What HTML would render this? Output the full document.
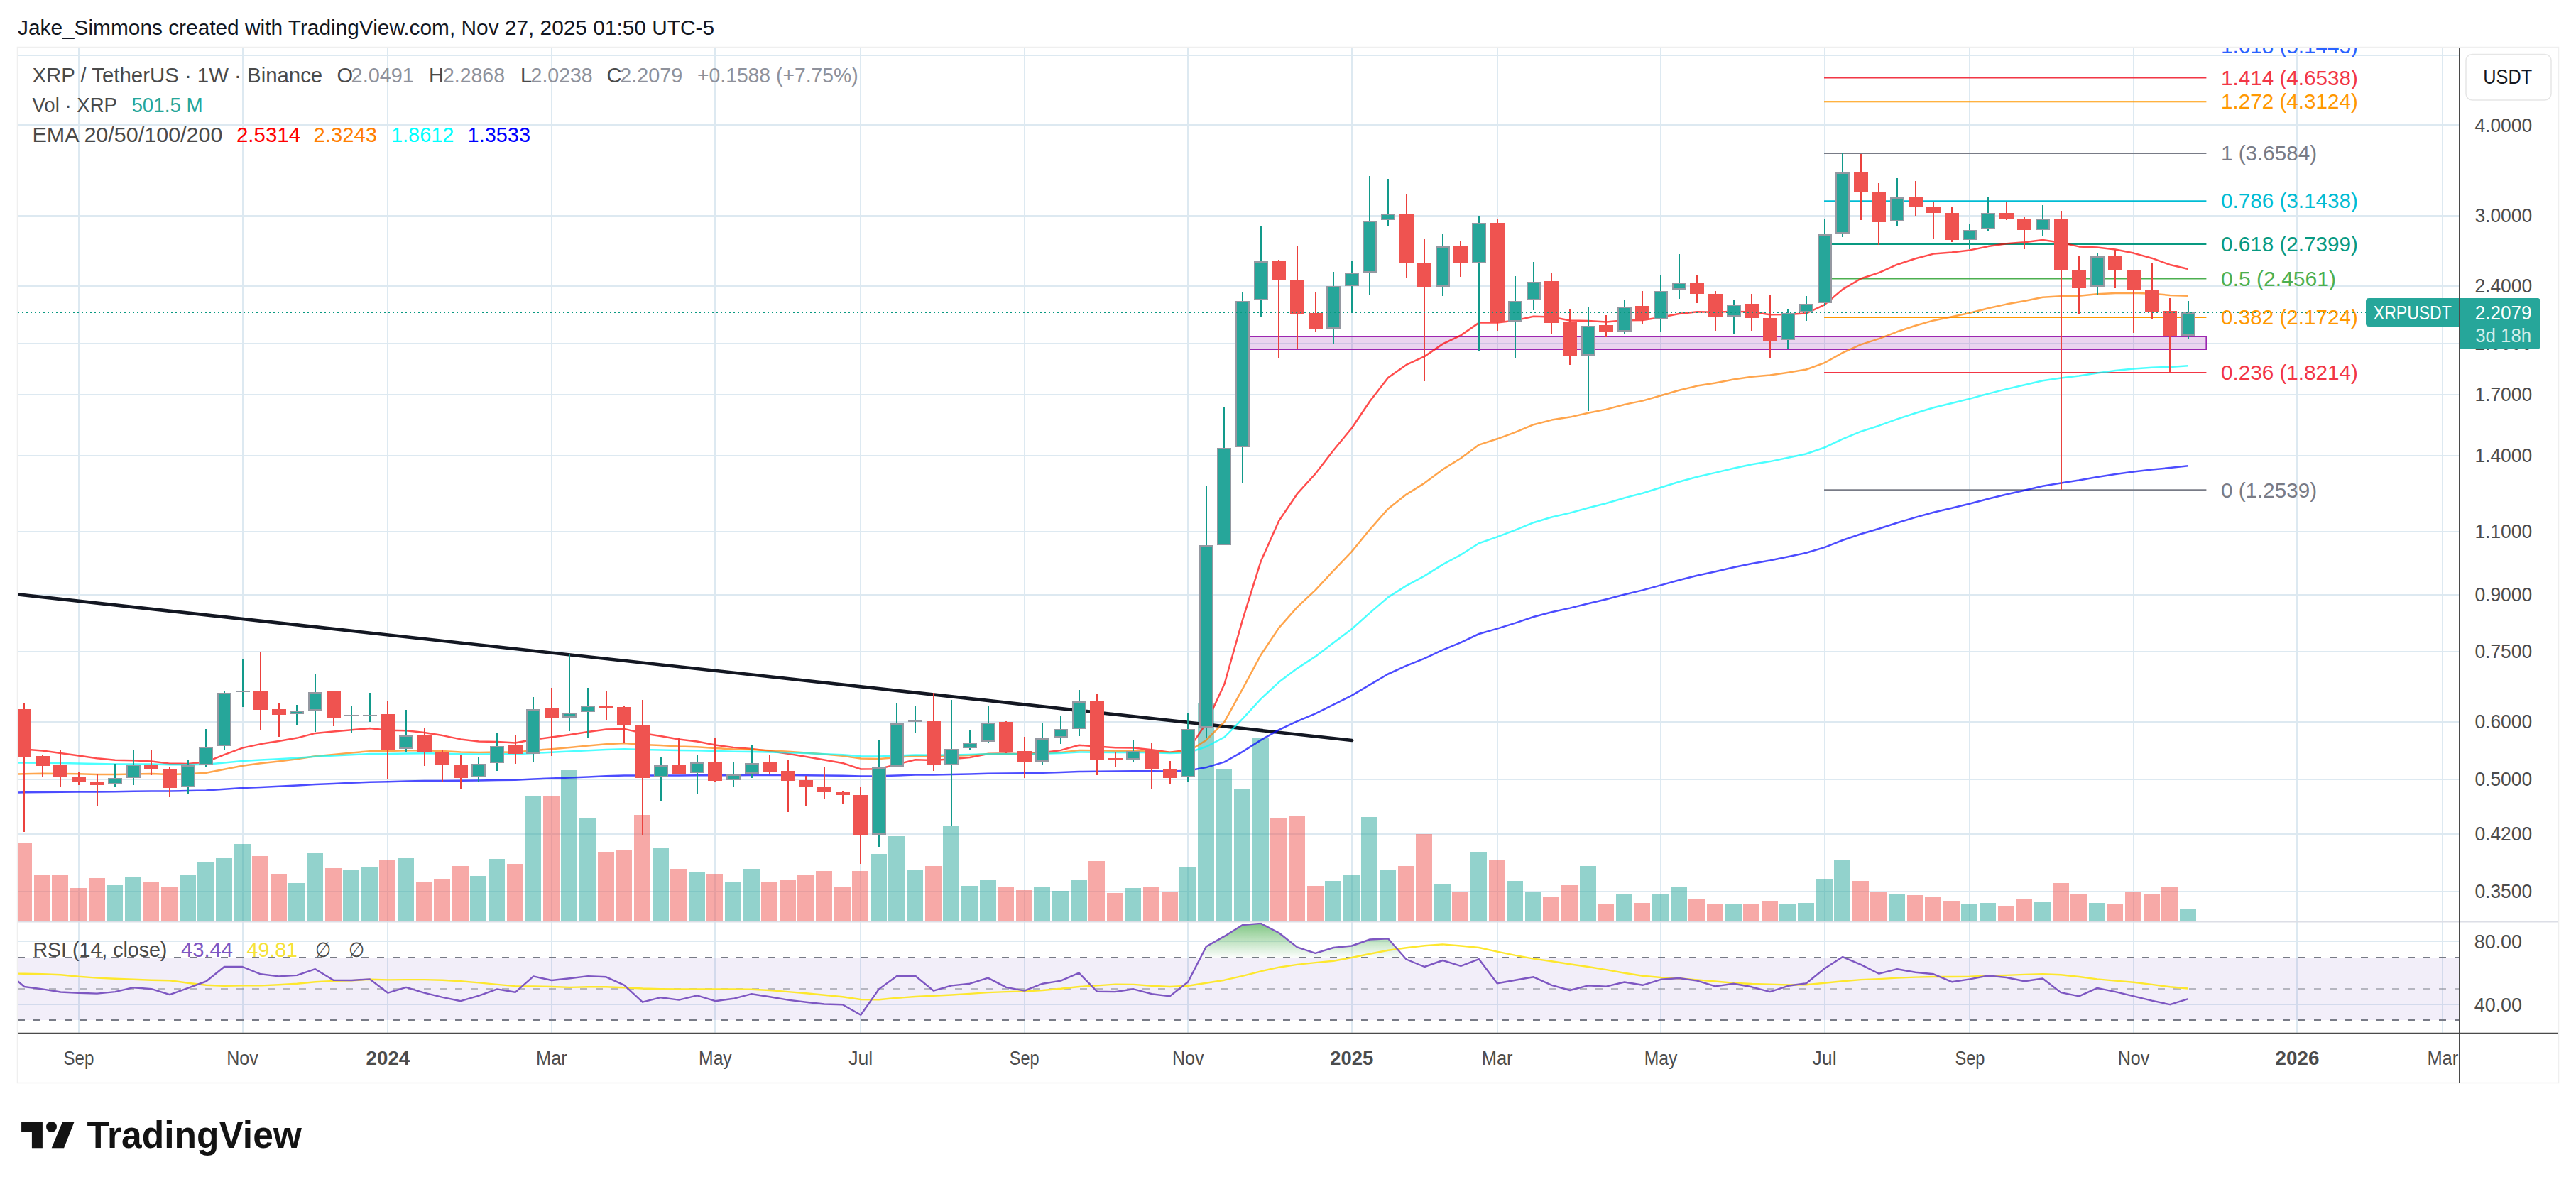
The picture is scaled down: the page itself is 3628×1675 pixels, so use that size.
<!DOCTYPE html>
<html><head><meta charset="utf-8"><style>
html,body{margin:0;padding:0;background:#fff;width:3628px;height:1675px;overflow:hidden;}
svg{display:block;}
text{font-family:"Liberation Sans", sans-serif;}
</style></head><body>
<svg width="3628" height="1675" viewBox="0 0 3628 1675" font-family='"Liberation Sans", sans-serif'>
<defs>
<clipPath id="main"><rect x="25" y="67" width="3438" height="1230.5"/></clipPath>
<clipPath id="rsi"><rect x="25" y="1299.5" width="3438" height="155.29999999999995"/></clipPath>
<linearGradient id="ob" x1="0" y1="1300" x2="0" y2="1349" gradientUnits="userSpaceOnUse"><stop offset="0" stop-color="#4caf50" stop-opacity="0.72"/><stop offset="1" stop-color="#4caf50" stop-opacity="0.02"/></linearGradient>
</defs>
<rect x="0" y="0" width="3628" height="1675" fill="#ffffff"/>
<text x="25.0" y="49.0" font-size="30" fill="#131722" text-anchor="start" font-weight="normal" textLength="981.0" lengthAdjust="spacingAndGlyphs">Jake_Simmons created with TradingView.com, Nov 27, 2025 01:50 UTC-5</text>
<rect x="24.5" y="66.5" width="3579" height="1459" fill="none" stroke="#efefef" stroke-width="1.5"/>
<line x1="111" y1="67" x2="111" y2="1454.8" stroke="#dde9f1" stroke-width="2"/>
<line x1="342" y1="67" x2="342" y2="1454.8" stroke="#dde9f1" stroke-width="2"/>
<line x1="546" y1="67" x2="546" y2="1454.8" stroke="#dde9f1" stroke-width="2"/>
<line x1="777" y1="67" x2="777" y2="1454.8" stroke="#dde9f1" stroke-width="2"/>
<line x1="1007" y1="67" x2="1007" y2="1454.8" stroke="#dde9f1" stroke-width="2"/>
<line x1="1212" y1="67" x2="1212" y2="1454.8" stroke="#dde9f1" stroke-width="2"/>
<line x1="1443" y1="67" x2="1443" y2="1454.8" stroke="#dde9f1" stroke-width="2"/>
<line x1="1673" y1="67" x2="1673" y2="1454.8" stroke="#dde9f1" stroke-width="2"/>
<line x1="1904" y1="67" x2="1904" y2="1454.8" stroke="#dde9f1" stroke-width="2"/>
<line x1="2109" y1="67" x2="2109" y2="1454.8" stroke="#dde9f1" stroke-width="2"/>
<line x1="2339" y1="67" x2="2339" y2="1454.8" stroke="#dde9f1" stroke-width="2"/>
<line x1="2570" y1="67" x2="2570" y2="1454.8" stroke="#dde9f1" stroke-width="2"/>
<line x1="2774" y1="67" x2="2774" y2="1454.8" stroke="#dde9f1" stroke-width="2"/>
<line x1="3005" y1="67" x2="3005" y2="1454.8" stroke="#dde9f1" stroke-width="2"/>
<line x1="3235" y1="67" x2="3235" y2="1454.8" stroke="#dde9f1" stroke-width="2"/>
<line x1="3440" y1="67" x2="3440" y2="1454.8" stroke="#dde9f1" stroke-width="2"/>
<line x1="25" y1="78" x2="3464" y2="78" stroke="#dde9f1" stroke-width="2"/>
<line x1="25" y1="176" x2="3464" y2="176" stroke="#dde9f1" stroke-width="2"/>
<line x1="25" y1="304" x2="3464" y2="304" stroke="#dde9f1" stroke-width="2"/>
<line x1="25" y1="403" x2="3464" y2="403" stroke="#dde9f1" stroke-width="2"/>
<line x1="25" y1="484" x2="3464" y2="484" stroke="#dde9f1" stroke-width="2"/>
<line x1="25" y1="556" x2="3464" y2="556" stroke="#dde9f1" stroke-width="2"/>
<line x1="25" y1="642" x2="3464" y2="642" stroke="#dde9f1" stroke-width="2"/>
<line x1="25" y1="749" x2="3464" y2="749" stroke="#dde9f1" stroke-width="2"/>
<line x1="25" y1="838" x2="3464" y2="838" stroke="#dde9f1" stroke-width="2"/>
<line x1="25" y1="918" x2="3464" y2="918" stroke="#dde9f1" stroke-width="2"/>
<line x1="25" y1="1017" x2="3464" y2="1017" stroke="#dde9f1" stroke-width="2"/>
<line x1="25" y1="1098" x2="3464" y2="1098" stroke="#dde9f1" stroke-width="2"/>
<line x1="25" y1="1175" x2="3464" y2="1175" stroke="#dde9f1" stroke-width="2"/>
<line x1="25" y1="1256" x2="3464" y2="1256" stroke="#dde9f1" stroke-width="2"/>
<line x1="25" y1="1326" x2="3464" y2="1326" stroke="#dde9f1" stroke-width="2"/>
<line x1="25" y1="1415" x2="3464" y2="1415" stroke="#dde9f1" stroke-width="2"/>
<g clip-path="url(#main)">
<rect x="22" y="1187" width="23" height="110" fill="#ef5350" fill-opacity="0.5"/>
<rect x="48" y="1233" width="23" height="64" fill="#ef5350" fill-opacity="0.5"/>
<rect x="73" y="1232" width="23" height="65" fill="#ef5350" fill-opacity="0.5"/>
<rect x="99" y="1251" width="23" height="46" fill="#ef5350" fill-opacity="0.5"/>
<rect x="125" y="1237" width="23" height="60" fill="#ef5350" fill-opacity="0.5"/>
<rect x="150" y="1247" width="23" height="50" fill="#26a69a" fill-opacity="0.5"/>
<rect x="176" y="1235" width="23" height="62" fill="#26a69a" fill-opacity="0.5"/>
<rect x="201" y="1243" width="23" height="54" fill="#ef5350" fill-opacity="0.5"/>
<rect x="227" y="1250" width="23" height="47" fill="#ef5350" fill-opacity="0.5"/>
<rect x="253" y="1232" width="23" height="65" fill="#26a69a" fill-opacity="0.5"/>
<rect x="278" y="1214" width="23" height="83" fill="#26a69a" fill-opacity="0.5"/>
<rect x="304" y="1209" width="23" height="88" fill="#26a69a" fill-opacity="0.5"/>
<rect x="330" y="1189" width="23" height="108" fill="#26a69a" fill-opacity="0.5"/>
<rect x="355" y="1206" width="23" height="91" fill="#ef5350" fill-opacity="0.5"/>
<rect x="381" y="1231" width="23" height="66" fill="#ef5350" fill-opacity="0.5"/>
<rect x="406" y="1244" width="23" height="53" fill="#26a69a" fill-opacity="0.5"/>
<rect x="432" y="1202" width="23" height="95" fill="#26a69a" fill-opacity="0.5"/>
<rect x="458" y="1223" width="23" height="74" fill="#ef5350" fill-opacity="0.5"/>
<rect x="483" y="1225" width="23" height="72" fill="#26a69a" fill-opacity="0.5"/>
<rect x="509" y="1221" width="23" height="76" fill="#26a69a" fill-opacity="0.5"/>
<rect x="534" y="1211" width="23" height="86" fill="#ef5350" fill-opacity="0.5"/>
<rect x="560" y="1209" width="23" height="88" fill="#26a69a" fill-opacity="0.5"/>
<rect x="586" y="1242" width="23" height="55" fill="#ef5350" fill-opacity="0.5"/>
<rect x="611" y="1238" width="23" height="59" fill="#ef5350" fill-opacity="0.5"/>
<rect x="637" y="1220" width="23" height="77" fill="#ef5350" fill-opacity="0.5"/>
<rect x="662" y="1234" width="23" height="63" fill="#26a69a" fill-opacity="0.5"/>
<rect x="688" y="1210" width="23" height="87" fill="#26a69a" fill-opacity="0.5"/>
<rect x="714" y="1217" width="23" height="80" fill="#ef5350" fill-opacity="0.5"/>
<rect x="739" y="1121" width="23" height="176" fill="#26a69a" fill-opacity="0.5"/>
<rect x="765" y="1122" width="23" height="175" fill="#ef5350" fill-opacity="0.5"/>
<rect x="790" y="1085" width="23" height="212" fill="#26a69a" fill-opacity="0.5"/>
<rect x="816" y="1153" width="23" height="144" fill="#26a69a" fill-opacity="0.5"/>
<rect x="842" y="1200" width="23" height="97" fill="#ef5350" fill-opacity="0.5"/>
<rect x="867" y="1198" width="23" height="99" fill="#ef5350" fill-opacity="0.5"/>
<rect x="893" y="1148" width="23" height="149" fill="#ef5350" fill-opacity="0.5"/>
<rect x="919" y="1195" width="23" height="102" fill="#26a69a" fill-opacity="0.5"/>
<rect x="944" y="1224" width="23" height="73" fill="#ef5350" fill-opacity="0.5"/>
<rect x="970" y="1228" width="23" height="69" fill="#26a69a" fill-opacity="0.5"/>
<rect x="995" y="1231" width="23" height="66" fill="#ef5350" fill-opacity="0.5"/>
<rect x="1021" y="1242" width="23" height="55" fill="#26a69a" fill-opacity="0.5"/>
<rect x="1047" y="1224" width="23" height="73" fill="#26a69a" fill-opacity="0.5"/>
<rect x="1072" y="1243" width="23" height="54" fill="#ef5350" fill-opacity="0.5"/>
<rect x="1098" y="1240" width="23" height="57" fill="#ef5350" fill-opacity="0.5"/>
<rect x="1123" y="1233" width="23" height="64" fill="#ef5350" fill-opacity="0.5"/>
<rect x="1149" y="1227" width="23" height="70" fill="#ef5350" fill-opacity="0.5"/>
<rect x="1175" y="1250" width="23" height="47" fill="#ef5350" fill-opacity="0.5"/>
<rect x="1200" y="1227" width="23" height="70" fill="#ef5350" fill-opacity="0.5"/>
<rect x="1226" y="1203" width="23" height="94" fill="#26a69a" fill-opacity="0.5"/>
<rect x="1251" y="1178" width="23" height="119" fill="#26a69a" fill-opacity="0.5"/>
<rect x="1277" y="1226" width="23" height="71" fill="#26a69a" fill-opacity="0.5"/>
<rect x="1303" y="1220" width="23" height="77" fill="#ef5350" fill-opacity="0.5"/>
<rect x="1328" y="1164" width="23" height="133" fill="#26a69a" fill-opacity="0.5"/>
<rect x="1354" y="1248" width="23" height="49" fill="#26a69a" fill-opacity="0.5"/>
<rect x="1380" y="1239" width="23" height="58" fill="#26a69a" fill-opacity="0.5"/>
<rect x="1405" y="1249" width="23" height="48" fill="#ef5350" fill-opacity="0.5"/>
<rect x="1431" y="1254" width="23" height="43" fill="#ef5350" fill-opacity="0.5"/>
<rect x="1456" y="1250" width="23" height="47" fill="#26a69a" fill-opacity="0.5"/>
<rect x="1482" y="1255" width="23" height="42" fill="#26a69a" fill-opacity="0.5"/>
<rect x="1508" y="1239" width="23" height="58" fill="#26a69a" fill-opacity="0.5"/>
<rect x="1533" y="1213" width="23" height="84" fill="#ef5350" fill-opacity="0.5"/>
<rect x="1559" y="1258" width="23" height="39" fill="#ef5350" fill-opacity="0.5"/>
<rect x="1584" y="1251" width="23" height="46" fill="#26a69a" fill-opacity="0.5"/>
<rect x="1610" y="1250" width="23" height="47" fill="#ef5350" fill-opacity="0.5"/>
<rect x="1636" y="1257" width="23" height="40" fill="#ef5350" fill-opacity="0.5"/>
<rect x="1661" y="1222" width="23" height="75" fill="#26a69a" fill-opacity="0.5"/>
<rect x="1687" y="990" width="23" height="307" fill="#26a69a" fill-opacity="0.5"/>
<rect x="1712" y="1083" width="23" height="214" fill="#26a69a" fill-opacity="0.5"/>
<rect x="1738" y="1111" width="23" height="186" fill="#26a69a" fill-opacity="0.5"/>
<rect x="1764" y="1040" width="23" height="257" fill="#26a69a" fill-opacity="0.5"/>
<rect x="1789" y="1153" width="23" height="144" fill="#ef5350" fill-opacity="0.5"/>
<rect x="1815" y="1150" width="23" height="147" fill="#ef5350" fill-opacity="0.5"/>
<rect x="1841" y="1248" width="23" height="49" fill="#ef5350" fill-opacity="0.5"/>
<rect x="1866" y="1241" width="23" height="56" fill="#26a69a" fill-opacity="0.5"/>
<rect x="1892" y="1233" width="23" height="64" fill="#26a69a" fill-opacity="0.5"/>
<rect x="1917" y="1151" width="23" height="146" fill="#26a69a" fill-opacity="0.5"/>
<rect x="1943" y="1226" width="23" height="71" fill="#26a69a" fill-opacity="0.5"/>
<rect x="1969" y="1220" width="23" height="77" fill="#ef5350" fill-opacity="0.5"/>
<rect x="1994" y="1175" width="23" height="122" fill="#ef5350" fill-opacity="0.5"/>
<rect x="2020" y="1246" width="23" height="51" fill="#26a69a" fill-opacity="0.5"/>
<rect x="2045" y="1257" width="23" height="40" fill="#ef5350" fill-opacity="0.5"/>
<rect x="2071" y="1200" width="23" height="97" fill="#26a69a" fill-opacity="0.5"/>
<rect x="2097" y="1212" width="23" height="85" fill="#ef5350" fill-opacity="0.5"/>
<rect x="2122" y="1241" width="23" height="56" fill="#26a69a" fill-opacity="0.5"/>
<rect x="2148" y="1257" width="23" height="40" fill="#26a69a" fill-opacity="0.5"/>
<rect x="2173" y="1263" width="23" height="34" fill="#ef5350" fill-opacity="0.5"/>
<rect x="2199" y="1247" width="23" height="50" fill="#ef5350" fill-opacity="0.5"/>
<rect x="2225" y="1220" width="23" height="77" fill="#26a69a" fill-opacity="0.5"/>
<rect x="2250" y="1273" width="23" height="24" fill="#ef5350" fill-opacity="0.5"/>
<rect x="2276" y="1260" width="23" height="37" fill="#26a69a" fill-opacity="0.5"/>
<rect x="2301" y="1272" width="23" height="25" fill="#ef5350" fill-opacity="0.5"/>
<rect x="2327" y="1260" width="23" height="37" fill="#26a69a" fill-opacity="0.5"/>
<rect x="2353" y="1249" width="23" height="48" fill="#26a69a" fill-opacity="0.5"/>
<rect x="2378" y="1267" width="23" height="30" fill="#ef5350" fill-opacity="0.5"/>
<rect x="2404" y="1273" width="23" height="24" fill="#ef5350" fill-opacity="0.5"/>
<rect x="2430" y="1274" width="23" height="23" fill="#26a69a" fill-opacity="0.5"/>
<rect x="2455" y="1273" width="23" height="24" fill="#ef5350" fill-opacity="0.5"/>
<rect x="2481" y="1269" width="23" height="28" fill="#ef5350" fill-opacity="0.5"/>
<rect x="2506" y="1273" width="23" height="24" fill="#26a69a" fill-opacity="0.5"/>
<rect x="2532" y="1272" width="23" height="25" fill="#26a69a" fill-opacity="0.5"/>
<rect x="2558" y="1238" width="23" height="59" fill="#26a69a" fill-opacity="0.5"/>
<rect x="2583" y="1211" width="23" height="86" fill="#26a69a" fill-opacity="0.5"/>
<rect x="2609" y="1241" width="23" height="56" fill="#ef5350" fill-opacity="0.5"/>
<rect x="2634" y="1257" width="23" height="40" fill="#ef5350" fill-opacity="0.5"/>
<rect x="2660" y="1260" width="23" height="37" fill="#26a69a" fill-opacity="0.5"/>
<rect x="2686" y="1261" width="23" height="36" fill="#ef5350" fill-opacity="0.5"/>
<rect x="2711" y="1263" width="23" height="34" fill="#ef5350" fill-opacity="0.5"/>
<rect x="2737" y="1269" width="23" height="28" fill="#ef5350" fill-opacity="0.5"/>
<rect x="2762" y="1273" width="23" height="24" fill="#26a69a" fill-opacity="0.5"/>
<rect x="2788" y="1272" width="23" height="25" fill="#26a69a" fill-opacity="0.5"/>
<rect x="2814" y="1276" width="23" height="21" fill="#ef5350" fill-opacity="0.5"/>
<rect x="2839" y="1267" width="23" height="30" fill="#ef5350" fill-opacity="0.5"/>
<rect x="2865" y="1271" width="23" height="26" fill="#26a69a" fill-opacity="0.5"/>
<rect x="2891" y="1244" width="23" height="53" fill="#ef5350" fill-opacity="0.5"/>
<rect x="2916" y="1259" width="23" height="38" fill="#ef5350" fill-opacity="0.5"/>
<rect x="2942" y="1272" width="23" height="25" fill="#26a69a" fill-opacity="0.5"/>
<rect x="2967" y="1273" width="23" height="24" fill="#ef5350" fill-opacity="0.5"/>
<rect x="2993" y="1257" width="23" height="40" fill="#ef5350" fill-opacity="0.5"/>
<rect x="3019" y="1260" width="23" height="37" fill="#ef5350" fill-opacity="0.5"/>
<rect x="3044" y="1249" width="23" height="48" fill="#ef5350" fill-opacity="0.5"/>
<rect x="3070" y="1280" width="23" height="17" fill="#26a69a" fill-opacity="0.5"/>
<rect x="1759" y="474" width="1348.4" height="18" fill="#9c27b0" fill-opacity="0.2" stroke="#9c27b0" stroke-width="2"/>
<line x1="2569" y1="65.1" x2="3107.4" y2="65.1" stroke="#2962ff" stroke-width="2"/>
<line x1="2569" y1="109.4" x2="3107.4" y2="109.4" stroke="#f23645" stroke-width="2"/>
<line x1="2569" y1="143.2" x2="3107.4" y2="143.2" stroke="#ff9800" stroke-width="2"/>
<line x1="2569" y1="216.0" x2="3107.4" y2="216.0" stroke="#787b86" stroke-width="2"/>
<line x1="2569" y1="283.2" x2="3107.4" y2="283.2" stroke="#00bcd4" stroke-width="2"/>
<line x1="2569" y1="344.1" x2="3107.4" y2="344.1" stroke="#089981" stroke-width="2"/>
<line x1="2569" y1="392.5" x2="3107.4" y2="392.5" stroke="#4caf50" stroke-width="2"/>
<line x1="2569" y1="446.9" x2="3107.4" y2="446.9" stroke="#ff9800" stroke-width="2"/>
<line x1="2569" y1="524.9" x2="3107.4" y2="524.9" stroke="#f23645" stroke-width="2"/>
<line x1="2569" y1="690.3" x2="3107.4" y2="690.3" stroke="#787b86" stroke-width="2"/>
<line x1="20" y1="836.8" x2="1904.2" y2="1043" stroke="#131722" stroke-width="4.6" stroke-linecap="round"/>
<polyline points="8.6,1053.4 34.2,1055.5 59.8,1057.6 85.4,1060.9 111.0,1064.5 136.6,1068.2 162.2,1070.8 187.9,1071.3 213.5,1072.4 239.1,1075.7 264.7,1075.9 290.3,1073.4 315.9,1063.1 341.5,1053.6 367.1,1048.1 392.7,1043.9 418.3,1039.6 444.0,1032.9 469.6,1030.6 495.2,1028.3 520.8,1026.1 546.4,1028.7 572.0,1029.3 597.6,1032.1 623.2,1036.1 648.8,1041.4 674.5,1044.5 700.1,1045.0 725.7,1046.6 751.3,1041.7 776.9,1038.6 802.5,1035.1 828.1,1031.0 853.7,1027.5 879.3,1026.9 904.9,1032.9 930.6,1036.9 956.2,1041.6 981.8,1044.5 1007.4,1049.4 1033.0,1053.1 1058.6,1055.1 1084.2,1057.9 1109.8,1061.7 1135.4,1065.9 1161.0,1070.4 1186.7,1074.9 1212.3,1083.5 1237.9,1083.2 1263.5,1076.6 1289.1,1070.2 1314.7,1070.9 1340.3,1069.3 1365.9,1066.9 1391.5,1061.9 1417.1,1061.5 1442.8,1062.5 1468.4,1060.2 1494.0,1056.9 1519.6,1049.8 1545.2,1051.6 1570.8,1053.2 1596.4,1053.5 1622.0,1056.2 1647.6,1059.7 1673.2,1056.4 1698.8,1019.1 1724.5,963.5 1750.1,872.8 1775.7,790.9 1801.3,733.6 1826.9,695.7 1852.5,667.5 1878.1,634.2 1903.7,603.2 1929.3,565.3 1955.0,532.1 1980.6,513.9 2006.2,502.1 2031.8,484.6 2057.4,472.4 2083.0,454.6 2108.6,454.5 2134.2,451.4 2159.8,445.8 2185.4,446.6 2211.0,451.4 2236.7,452.1 2262.3,453.4 2287.9,451.3 2313.5,451.1 2339.1,446.9 2364.7,442.0 2390.3,439.2 2415.9,439.8 2441.5,438.7 2467.1,439.5 2492.8,443.2 2518.4,442.9 2544.0,441.3 2569.6,429.3 2595.2,407.6 2620.8,392.5 2646.4,384.1 2672.0,372.7 2697.6,364.2 2723.2,357.6 2748.9,355.6 2774.5,352.4 2800.1,347.1 2825.7,343.2 2851.3,341.3 2876.9,337.9 2902.5,341.8 2928.1,347.4 2953.7,348.6 2979.3,351.5 3005.0,356.6 3030.6,363.7 3056.2,373.0 3081.8,379.0" fill="none" stroke="#ff0000" stroke-opacity="0.7" stroke-width="2.5" stroke-linejoin="round"/>
<polyline points="8.6,1090.7 34.2,1090.2 59.8,1089.7 85.4,1089.9 111.0,1090.3 136.6,1090.9 162.2,1091.0 187.9,1090.5 213.5,1090.1 239.1,1090.9 264.7,1090.3 290.3,1088.7 315.9,1083.7 341.5,1078.7 367.1,1075.3 392.7,1072.4 418.3,1069.3 444.0,1065.2 469.6,1062.9 495.2,1060.5 520.8,1058.2 546.4,1058.1 572.0,1057.2 597.6,1057.2 623.2,1058.0 648.8,1059.4 674.5,1060.0 700.1,1059.6 725.7,1059.7 751.3,1057.1 776.9,1055.2 802.5,1053.0 828.1,1050.5 853.7,1048.2 879.3,1047.1 904.9,1048.9 930.6,1050.0 956.2,1051.4 981.8,1052.2 1007.4,1054.0 1033.0,1055.4 1058.6,1056.1 1084.2,1057.2 1109.8,1058.8 1135.4,1060.6 1161.0,1062.6 1186.7,1064.7 1212.3,1068.6 1237.9,1069.1 1263.5,1066.9 1289.1,1064.7 1314.7,1065.2 1340.3,1064.8 1365.9,1064.0 1391.5,1062.0 1417.1,1061.9 1442.8,1062.3 1468.4,1061.3 1494.0,1059.9 1519.6,1056.9 1545.2,1057.3 1570.8,1057.8 1596.4,1057.7 1622.0,1058.7 1647.6,1060.0 1673.2,1058.6 1698.8,1042.7 1724.5,1016.8 1750.1,970.4 1775.7,922.6 1801.3,884.4 1826.9,855.4 1852.5,831.3 1878.1,803.8 1903.7,777.1 1929.3,745.8 1955.0,716.7 1980.6,696.6 2006.2,680.6 2031.8,661.4 2057.4,645.5 2083.0,626.6 2108.6,618.3 2134.2,608.8 2159.8,598.2 2185.4,591.6 2211.0,587.6 2236.7,581.8 2262.3,576.6 2287.9,569.9 2313.5,564.6 2339.1,557.3 2364.7,549.8 2390.3,543.6 2415.9,539.4 2441.5,534.4 2467.1,530.7 2492.8,528.5 2518.4,524.7 2544.0,520.5 2569.6,511.2 2595.2,496.9 2620.8,485.4 2646.4,477.1 2672.0,467.3 2697.6,458.8 2723.2,451.4 2748.9,446.3 2774.5,440.8 2800.1,434.3 2825.7,428.6 2851.3,424.0 2876.9,418.8 2902.5,417.2 2928.1,416.7 2953.7,414.3 2979.3,412.9 3005.0,412.7 3030.6,413.7 3056.2,415.9 3081.8,416.8" fill="none" stroke="#ff7f00" stroke-opacity="0.7" stroke-width="2.5" stroke-linejoin="round"/>
<polyline points="8.6,1074.5 34.2,1074.6 59.8,1074.7 85.4,1075.0 111.0,1075.5 136.6,1076.1 162.2,1076.5 187.9,1076.5 213.5,1076.6 239.1,1077.2 264.7,1077.2 290.3,1076.7 315.9,1074.4 341.5,1072.1 367.1,1070.6 392.7,1069.2 418.3,1067.7 444.0,1065.7 469.6,1064.5 495.2,1063.3 520.8,1062.1 546.4,1061.9 572.0,1061.4 597.6,1061.3 623.2,1061.6 648.8,1062.2 674.5,1062.5 700.1,1062.2 725.7,1062.2 751.3,1060.9 776.9,1059.8 802.5,1058.6 828.1,1057.2 853.7,1055.9 879.3,1055.2 904.9,1055.9 930.6,1056.4 956.2,1057.0 981.8,1057.3 1007.4,1058.1 1033.0,1058.7 1058.6,1059.0 1084.2,1059.5 1109.8,1060.3 1135.4,1061.1 1161.0,1062.2 1186.7,1063.2 1212.3,1065.2 1237.9,1065.5 1263.5,1064.5 1289.1,1063.5 1314.7,1063.7 1340.3,1063.5 1365.9,1063.1 1391.5,1062.2 1417.1,1062.1 1442.8,1062.3 1468.4,1061.8 1494.0,1061.1 1519.6,1059.5 1545.2,1059.7 1570.8,1059.9 1596.4,1059.8 1622.0,1060.3 1647.6,1060.9 1673.2,1060.2 1698.8,1052.0 1724.5,1038.3 1750.1,1012.7 1775.7,984.7 1801.3,960.8 1826.9,941.6 1852.5,924.9 1878.1,905.5 1903.7,886.2 1929.3,863.4 1955.0,841.4 1980.6,825.1 2006.2,811.4 2031.8,795.4 2057.4,781.5 2083.0,765.3 2108.6,756.4 2134.2,746.7 2159.8,736.2 2185.4,728.5 2211.0,722.6 2236.7,715.5 2262.3,709.0 2287.9,701.4 2313.5,694.7 2339.1,686.8 2364.7,678.8 2390.3,671.7 2415.9,665.9 2441.5,659.7 2467.1,654.3 2492.8,650.1 2518.4,644.8 2544.0,639.3 2569.6,630.5 2595.2,618.3 2620.8,607.9 2646.4,599.7 2672.0,590.4 2697.6,582.0 2723.2,574.2 2748.9,568.0 2774.5,561.6 2800.1,554.6 2825.7,548.1 2851.3,542.3 2876.9,536.2 2902.5,532.5 2928.1,529.6 2953.7,525.5 2979.3,522.1 3005.0,519.6 3030.6,517.8 3056.2,516.9 3081.8,515.2" fill="none" stroke="#00ffff" stroke-opacity="0.7" stroke-width="2.5" stroke-linejoin="round"/>
<polyline points="8.6,1116.7 34.2,1116.3 59.8,1115.9 85.4,1115.7 111.0,1115.5 136.6,1115.4 162.2,1115.2 187.9,1114.8 213.5,1114.5 239.1,1114.4 264.7,1114.0 290.3,1113.4 315.9,1111.8 341.5,1110.1 367.1,1108.9 392.7,1107.7 418.3,1106.5 444.0,1105.0 469.6,1103.9 495.2,1102.8 520.8,1101.8 546.4,1101.3 572.0,1100.6 597.6,1100.1 623.2,1099.9 648.8,1099.8 674.5,1099.6 700.1,1099.1 725.7,1098.7 751.3,1097.5 776.9,1096.6 802.5,1095.6 828.1,1094.4 853.7,1093.3 879.3,1092.5 904.9,1092.6 930.6,1092.4 956.2,1092.4 981.8,1092.2 1007.4,1092.2 1033.0,1092.2 1058.6,1092.0 1084.2,1092.0 1109.8,1092.0 1135.4,1092.2 1161.0,1092.4 1186.7,1092.7 1212.3,1093.4 1237.9,1093.3 1263.5,1092.5 1289.1,1091.6 1314.7,1091.5 1340.3,1091.1 1365.9,1090.6 1391.5,1089.8 1417.1,1089.5 1442.8,1089.3 1468.4,1088.8 1494.0,1088.1 1519.6,1087.0 1545.2,1086.8 1570.8,1086.6 1596.4,1086.3 1622.0,1086.3 1647.6,1086.4 1673.2,1085.7 1698.8,1081.1 1724.5,1073.4 1750.1,1058.9 1775.7,1042.6 1801.3,1028.2 1826.9,1016.1 1852.5,1005.3 1878.1,992.7 1903.7,979.9 1929.3,964.6 1955.0,949.5 1980.6,937.8 2006.2,927.6 2031.8,915.7 2057.4,905.2 2083.0,893.0 2108.6,885.6 2134.2,877.6 2159.8,869.0 2185.4,862.2 2211.0,856.6 2236.7,850.3 2262.3,844.2 2287.9,837.5 2313.5,831.4 2339.1,824.4 2364.7,817.3 2390.3,810.8 2415.9,805.2 2441.5,799.3 2467.1,794.0 2492.8,789.5 2518.4,784.2 2544.0,778.8 2569.6,771.1 2595.2,761.0 2620.8,752.2 2646.4,744.7 2672.0,736.5 2697.6,728.9 2723.2,721.8 2748.9,715.7 2774.5,709.5 2800.1,702.8 2825.7,696.5 2851.3,690.7 2876.9,684.7 2902.5,680.4 2928.1,676.6 2953.7,672.0 2979.3,667.9 3005.0,664.4 3030.6,661.5 3056.2,659.1 3081.8,656.3" fill="none" stroke="#0000ff" stroke-opacity="0.7" stroke-width="2.5" stroke-linejoin="round"/>
<rect x="33" y="991" width="2" height="181" fill="#eb413d"/>
<rect x="24" y="999" width="20" height="67" fill="#ef5350"/>
<rect x="59" y="1064" width="2" height="31" fill="#eb413d"/>
<rect x="50" y="1065" width="20" height="14" fill="#ef5350"/>
<rect x="84" y="1056" width="2" height="53" fill="#eb413d"/>
<rect x="75" y="1078" width="20" height="16" fill="#ef5350"/>
<rect x="110" y="1087" width="2" height="19" fill="#eb413d"/>
<rect x="101" y="1094" width="20" height="8" fill="#ef5350"/>
<rect x="136" y="1090" width="2" height="46" fill="#eb413d"/>
<rect x="127" y="1101" width="20" height="5" fill="#ef5350"/>
<rect x="161" y="1076" width="2" height="33" fill="#129a8b"/>
<rect x="152" y="1096" width="20" height="9" fill="#9598a1"/>
<rect x="154" y="1098" width="16" height="5" fill="#26a69a"/>
<rect x="187" y="1056" width="2" height="50" fill="#129a8b"/>
<rect x="178" y="1077" width="20" height="19" fill="#9598a1"/>
<rect x="180" y="1079" width="16" height="15" fill="#26a69a"/>
<rect x="212" y="1057" width="2" height="35" fill="#eb413d"/>
<rect x="203" y="1077" width="20" height="6" fill="#ef5350"/>
<rect x="238" y="1081" width="2" height="42" fill="#eb413d"/>
<rect x="229" y="1083" width="20" height="27" fill="#ef5350"/>
<rect x="264" y="1070" width="2" height="49" fill="#129a8b"/>
<rect x="255" y="1078" width="20" height="31" fill="#9598a1"/>
<rect x="257" y="1080" width="16" height="27" fill="#26a69a"/>
<rect x="289" y="1027" width="2" height="54" fill="#129a8b"/>
<rect x="280" y="1052" width="20" height="26" fill="#9598a1"/>
<rect x="282" y="1054" width="16" height="22" fill="#26a69a"/>
<rect x="315" y="973" width="2" height="83" fill="#129a8b"/>
<rect x="306" y="976" width="20" height="75" fill="#9598a1"/>
<rect x="308" y="978" width="16" height="71" fill="#26a69a"/>
<rect x="341" y="929" width="2" height="67" fill="#129a8b"/>
<rect x="332" y="973" width="20" height="2" fill="#9598a1"/>
<rect x="366" y="918" width="2" height="110" fill="#eb413d"/>
<rect x="357" y="974" width="20" height="26" fill="#ef5350"/>
<rect x="392" y="990" width="2" height="48" fill="#eb413d"/>
<rect x="383" y="999" width="20" height="8" fill="#ef5350"/>
<rect x="417" y="993" width="2" height="29" fill="#129a8b"/>
<rect x="408" y="1001" width="20" height="5" fill="#9598a1"/>
<rect x="410" y="1003" width="16" height="1" fill="#26a69a"/>
<rect x="443" y="949" width="2" height="82" fill="#129a8b"/>
<rect x="434" y="975" width="20" height="26" fill="#9598a1"/>
<rect x="436" y="977" width="16" height="22" fill="#26a69a"/>
<rect x="469" y="973" width="2" height="50" fill="#eb413d"/>
<rect x="460" y="974" width="20" height="37" fill="#ef5350"/>
<rect x="494" y="994" width="2" height="39" fill="#129a8b"/>
<rect x="485" y="1007" width="20" height="2" fill="#9598a1"/>
<rect x="520" y="976" width="2" height="41" fill="#129a8b"/>
<rect x="511" y="1007" width="20" height="2" fill="#9598a1"/>
<rect x="545" y="988" width="2" height="110" fill="#eb413d"/>
<rect x="536" y="1006" width="20" height="50" fill="#ef5350"/>
<rect x="571" y="1000" width="2" height="60" fill="#129a8b"/>
<rect x="562" y="1036" width="20" height="19" fill="#9598a1"/>
<rect x="564" y="1038" width="16" height="15" fill="#26a69a"/>
<rect x="597" y="1025" width="2" height="54" fill="#eb413d"/>
<rect x="588" y="1035" width="20" height="25" fill="#ef5350"/>
<rect x="622" y="1057" width="2" height="44" fill="#eb413d"/>
<rect x="613" y="1059" width="20" height="19" fill="#ef5350"/>
<rect x="648" y="1064" width="2" height="47" fill="#eb413d"/>
<rect x="639" y="1077" width="20" height="19" fill="#ef5350"/>
<rect x="673" y="1067" width="2" height="34" fill="#129a8b"/>
<rect x="664" y="1076" width="20" height="19" fill="#9598a1"/>
<rect x="666" y="1078" width="16" height="15" fill="#26a69a"/>
<rect x="699" y="1033" width="2" height="53" fill="#129a8b"/>
<rect x="690" y="1051" width="20" height="24" fill="#9598a1"/>
<rect x="692" y="1053" width="16" height="20" fill="#26a69a"/>
<rect x="725" y="1036" width="2" height="40" fill="#eb413d"/>
<rect x="716" y="1050" width="20" height="12" fill="#ef5350"/>
<rect x="750" y="982" width="2" height="91" fill="#129a8b"/>
<rect x="741" y="999" width="20" height="63" fill="#9598a1"/>
<rect x="743" y="1001" width="16" height="59" fill="#26a69a"/>
<rect x="776" y="969" width="2" height="96" fill="#eb413d"/>
<rect x="767" y="998" width="20" height="14" fill="#ef5350"/>
<rect x="801" y="922" width="2" height="108" fill="#129a8b"/>
<rect x="792" y="1004" width="20" height="7" fill="#9598a1"/>
<rect x="794" y="1006" width="16" height="3" fill="#26a69a"/>
<rect x="827" y="969" width="2" height="71" fill="#129a8b"/>
<rect x="818" y="994" width="20" height="9" fill="#9598a1"/>
<rect x="820" y="996" width="16" height="5" fill="#26a69a"/>
<rect x="853" y="973" width="2" height="41" fill="#eb413d"/>
<rect x="844" y="994" width="20" height="3" fill="#ef5350"/>
<rect x="878" y="994" width="2" height="52" fill="#eb413d"/>
<rect x="869" y="996" width="20" height="26" fill="#ef5350"/>
<rect x="904" y="986" width="2" height="190" fill="#eb413d"/>
<rect x="895" y="1021" width="20" height="75" fill="#ef5350"/>
<rect x="930" y="1067" width="2" height="62" fill="#129a8b"/>
<rect x="921" y="1078" width="20" height="17" fill="#9598a1"/>
<rect x="923" y="1080" width="16" height="13" fill="#26a69a"/>
<rect x="955" y="1039" width="2" height="51" fill="#eb413d"/>
<rect x="946" y="1077" width="20" height="13" fill="#ef5350"/>
<rect x="981" y="1064" width="2" height="54" fill="#129a8b"/>
<rect x="972" y="1074" width="20" height="15" fill="#9598a1"/>
<rect x="974" y="1076" width="16" height="11" fill="#26a69a"/>
<rect x="1006" y="1040" width="2" height="61" fill="#eb413d"/>
<rect x="997" y="1073" width="20" height="27" fill="#ef5350"/>
<rect x="1032" y="1073" width="2" height="36" fill="#129a8b"/>
<rect x="1023" y="1091" width="20" height="8" fill="#9598a1"/>
<rect x="1025" y="1093" width="16" height="4" fill="#26a69a"/>
<rect x="1058" y="1050" width="2" height="46" fill="#129a8b"/>
<rect x="1049" y="1075" width="20" height="15" fill="#9598a1"/>
<rect x="1051" y="1077" width="16" height="11" fill="#26a69a"/>
<rect x="1083" y="1063" width="2" height="28" fill="#eb413d"/>
<rect x="1074" y="1074" width="20" height="13" fill="#ef5350"/>
<rect x="1109" y="1070" width="2" height="74" fill="#eb413d"/>
<rect x="1100" y="1086" width="20" height="14" fill="#ef5350"/>
<rect x="1134" y="1093" width="2" height="42" fill="#eb413d"/>
<rect x="1125" y="1099" width="20" height="10" fill="#ef5350"/>
<rect x="1160" y="1080" width="2" height="46" fill="#eb413d"/>
<rect x="1151" y="1108" width="20" height="8" fill="#ef5350"/>
<rect x="1186" y="1114" width="2" height="19" fill="#eb413d"/>
<rect x="1177" y="1116" width="20" height="4" fill="#ef5350"/>
<rect x="1211" y="1108" width="2" height="109" fill="#eb413d"/>
<rect x="1202" y="1120" width="20" height="57" fill="#ef5350"/>
<rect x="1237" y="1043" width="2" height="150" fill="#129a8b"/>
<rect x="1228" y="1081" width="20" height="95" fill="#9598a1"/>
<rect x="1230" y="1083" width="16" height="91" fill="#26a69a"/>
<rect x="1262" y="990" width="2" height="90" fill="#129a8b"/>
<rect x="1253" y="1019" width="20" height="61" fill="#9598a1"/>
<rect x="1255" y="1021" width="16" height="57" fill="#26a69a"/>
<rect x="1288" y="994" width="2" height="38" fill="#129a8b"/>
<rect x="1279" y="1015" width="20" height="2" fill="#9598a1"/>
<rect x="1314" y="976" width="2" height="110" fill="#eb413d"/>
<rect x="1305" y="1016" width="20" height="62" fill="#ef5350"/>
<rect x="1339" y="986" width="2" height="177" fill="#129a8b"/>
<rect x="1330" y="1055" width="20" height="23" fill="#9598a1"/>
<rect x="1332" y="1057" width="16" height="19" fill="#26a69a"/>
<rect x="1365" y="1029" width="2" height="27" fill="#129a8b"/>
<rect x="1356" y="1046" width="20" height="8" fill="#9598a1"/>
<rect x="1358" y="1048" width="16" height="4" fill="#26a69a"/>
<rect x="1391" y="995" width="2" height="52" fill="#129a8b"/>
<rect x="1382" y="1018" width="20" height="27" fill="#9598a1"/>
<rect x="1384" y="1020" width="16" height="23" fill="#26a69a"/>
<rect x="1416" y="1016" width="2" height="45" fill="#eb413d"/>
<rect x="1407" y="1017" width="20" height="42" fill="#ef5350"/>
<rect x="1442" y="1038" width="2" height="58" fill="#eb413d"/>
<rect x="1433" y="1058" width="20" height="16" fill="#ef5350"/>
<rect x="1467" y="1018" width="2" height="60" fill="#129a8b"/>
<rect x="1458" y="1040" width="20" height="33" fill="#9598a1"/>
<rect x="1460" y="1042" width="16" height="29" fill="#26a69a"/>
<rect x="1493" y="1008" width="2" height="40" fill="#129a8b"/>
<rect x="1484" y="1027" width="20" height="12" fill="#9598a1"/>
<rect x="1486" y="1029" width="16" height="8" fill="#26a69a"/>
<rect x="1519" y="972" width="2" height="65" fill="#129a8b"/>
<rect x="1510" y="988" width="20" height="39" fill="#9598a1"/>
<rect x="1512" y="990" width="16" height="35" fill="#26a69a"/>
<rect x="1544" y="978" width="2" height="114" fill="#eb413d"/>
<rect x="1535" y="988" width="20" height="82" fill="#ef5350"/>
<rect x="1570" y="1059" width="2" height="21" fill="#eb413d"/>
<rect x="1561" y="1068" width="20" height="2" fill="#ef5350"/>
<rect x="1595" y="1043" width="2" height="31" fill="#129a8b"/>
<rect x="1586" y="1058" width="20" height="12" fill="#9598a1"/>
<rect x="1588" y="1060" width="16" height="8" fill="#26a69a"/>
<rect x="1621" y="1047" width="2" height="64" fill="#eb413d"/>
<rect x="1612" y="1057" width="20" height="26" fill="#ef5350"/>
<rect x="1647" y="1072" width="2" height="33" fill="#eb413d"/>
<rect x="1638" y="1083" width="20" height="13" fill="#ef5350"/>
<rect x="1672" y="1004" width="2" height="98" fill="#129a8b"/>
<rect x="1663" y="1027" width="20" height="68" fill="#9598a1"/>
<rect x="1665" y="1029" width="16" height="64" fill="#26a69a"/>
<rect x="1698" y="685" width="2" height="355" fill="#129a8b"/>
<rect x="1689" y="768" width="20" height="257" fill="#9598a1"/>
<rect x="1691" y="770" width="16" height="253" fill="#26a69a"/>
<rect x="1723" y="574" width="2" height="194" fill="#129a8b"/>
<rect x="1714" y="631" width="20" height="137" fill="#9598a1"/>
<rect x="1716" y="633" width="16" height="133" fill="#26a69a"/>
<rect x="1749" y="412" width="2" height="268" fill="#129a8b"/>
<rect x="1740" y="424" width="20" height="206" fill="#9598a1"/>
<rect x="1742" y="426" width="16" height="202" fill="#26a69a"/>
<rect x="1775" y="318" width="2" height="129" fill="#129a8b"/>
<rect x="1766" y="368" width="20" height="55" fill="#9598a1"/>
<rect x="1768" y="370" width="16" height="51" fill="#26a69a"/>
<rect x="1800" y="366" width="2" height="139" fill="#eb413d"/>
<rect x="1791" y="367" width="20" height="27" fill="#ef5350"/>
<rect x="1826" y="346" width="2" height="146" fill="#eb413d"/>
<rect x="1817" y="394" width="20" height="48" fill="#ef5350"/>
<rect x="1852" y="412" width="2" height="56" fill="#eb413d"/>
<rect x="1843" y="441" width="20" height="23" fill="#ef5350"/>
<rect x="1877" y="383" width="2" height="102" fill="#129a8b"/>
<rect x="1868" y="403" width="20" height="60" fill="#9598a1"/>
<rect x="1870" y="405" width="16" height="56" fill="#26a69a"/>
<rect x="1903" y="367" width="2" height="74" fill="#129a8b"/>
<rect x="1894" y="384" width="20" height="19" fill="#9598a1"/>
<rect x="1896" y="386" width="16" height="15" fill="#26a69a"/>
<rect x="1928" y="248" width="2" height="167" fill="#129a8b"/>
<rect x="1919" y="311" width="20" height="73" fill="#9598a1"/>
<rect x="1921" y="313" width="16" height="69" fill="#26a69a"/>
<rect x="1954" y="252" width="2" height="66" fill="#129a8b"/>
<rect x="1945" y="301" width="20" height="9" fill="#9598a1"/>
<rect x="1947" y="303" width="16" height="5" fill="#26a69a"/>
<rect x="1980" y="273" width="2" height="119" fill="#eb413d"/>
<rect x="1971" y="301" width="20" height="70" fill="#ef5350"/>
<rect x="2005" y="337" width="2" height="200" fill="#eb413d"/>
<rect x="1996" y="371" width="20" height="33" fill="#ef5350"/>
<rect x="2031" y="329" width="2" height="88" fill="#129a8b"/>
<rect x="2022" y="347" width="20" height="57" fill="#9598a1"/>
<rect x="2024" y="349" width="16" height="53" fill="#26a69a"/>
<rect x="2056" y="340" width="2" height="50" fill="#eb413d"/>
<rect x="2047" y="347" width="20" height="24" fill="#ef5350"/>
<rect x="2082" y="304" width="2" height="190" fill="#129a8b"/>
<rect x="2073" y="314" width="20" height="57" fill="#9598a1"/>
<rect x="2075" y="316" width="16" height="53" fill="#26a69a"/>
<rect x="2108" y="309" width="2" height="157" fill="#eb413d"/>
<rect x="2099" y="314" width="20" height="140" fill="#ef5350"/>
<rect x="2133" y="389" width="2" height="116" fill="#129a8b"/>
<rect x="2124" y="424" width="20" height="29" fill="#9598a1"/>
<rect x="2126" y="426" width="16" height="25" fill="#26a69a"/>
<rect x="2159" y="369" width="2" height="68" fill="#129a8b"/>
<rect x="2150" y="397" width="20" height="26" fill="#9598a1"/>
<rect x="2152" y="399" width="16" height="22" fill="#26a69a"/>
<rect x="2184" y="384" width="2" height="86" fill="#eb413d"/>
<rect x="2175" y="396" width="20" height="59" fill="#ef5350"/>
<rect x="2210" y="435" width="2" height="79" fill="#eb413d"/>
<rect x="2201" y="454" width="20" height="47" fill="#ef5350"/>
<rect x="2236" y="432" width="2" height="147" fill="#129a8b"/>
<rect x="2227" y="459" width="20" height="42" fill="#9598a1"/>
<rect x="2229" y="461" width="16" height="38" fill="#26a69a"/>
<rect x="2261" y="444" width="2" height="31" fill="#eb413d"/>
<rect x="2252" y="458" width="20" height="9" fill="#ef5350"/>
<rect x="2287" y="422" width="2" height="49" fill="#129a8b"/>
<rect x="2278" y="432" width="20" height="35" fill="#9598a1"/>
<rect x="2280" y="434" width="16" height="31" fill="#26a69a"/>
<rect x="2312" y="410" width="2" height="47" fill="#eb413d"/>
<rect x="2303" y="431" width="20" height="20" fill="#ef5350"/>
<rect x="2338" y="388" width="2" height="79" fill="#129a8b"/>
<rect x="2329" y="410" width="20" height="40" fill="#9598a1"/>
<rect x="2331" y="412" width="16" height="36" fill="#26a69a"/>
<rect x="2364" y="358" width="2" height="63" fill="#129a8b"/>
<rect x="2355" y="398" width="20" height="10" fill="#9598a1"/>
<rect x="2357" y="400" width="16" height="6" fill="#26a69a"/>
<rect x="2389" y="388" width="2" height="39" fill="#eb413d"/>
<rect x="2380" y="398" width="20" height="16" fill="#ef5350"/>
<rect x="2415" y="410" width="2" height="56" fill="#eb413d"/>
<rect x="2406" y="414" width="20" height="32" fill="#ef5350"/>
<rect x="2441" y="422" width="2" height="49" fill="#129a8b"/>
<rect x="2432" y="429" width="20" height="17" fill="#9598a1"/>
<rect x="2434" y="431" width="16" height="13" fill="#26a69a"/>
<rect x="2466" y="414" width="2" height="52" fill="#eb413d"/>
<rect x="2457" y="428" width="20" height="20" fill="#ef5350"/>
<rect x="2492" y="416" width="2" height="88" fill="#eb413d"/>
<rect x="2483" y="448" width="20" height="32" fill="#ef5350"/>
<rect x="2517" y="436" width="2" height="55" fill="#129a8b"/>
<rect x="2508" y="441" width="20" height="38" fill="#9598a1"/>
<rect x="2510" y="443" width="16" height="34" fill="#26a69a"/>
<rect x="2543" y="417" width="2" height="35" fill="#129a8b"/>
<rect x="2534" y="428" width="20" height="12" fill="#9598a1"/>
<rect x="2536" y="430" width="16" height="8" fill="#26a69a"/>
<rect x="2569" y="308" width="2" height="123" fill="#129a8b"/>
<rect x="2560" y="330" width="20" height="97" fill="#9598a1"/>
<rect x="2562" y="332" width="16" height="93" fill="#26a69a"/>
<rect x="2594" y="216" width="2" height="118" fill="#129a8b"/>
<rect x="2585" y="243" width="20" height="86" fill="#9598a1"/>
<rect x="2587" y="245" width="16" height="82" fill="#26a69a"/>
<rect x="2620" y="217" width="2" height="93" fill="#eb413d"/>
<rect x="2611" y="242" width="20" height="28" fill="#ef5350"/>
<rect x="2645" y="258" width="2" height="87" fill="#eb413d"/>
<rect x="2636" y="270" width="20" height="43" fill="#ef5350"/>
<rect x="2671" y="251" width="2" height="67" fill="#129a8b"/>
<rect x="2662" y="278" width="20" height="34" fill="#9598a1"/>
<rect x="2664" y="280" width="16" height="30" fill="#26a69a"/>
<rect x="2697" y="255" width="2" height="49" fill="#eb413d"/>
<rect x="2688" y="277" width="20" height="14" fill="#ef5350"/>
<rect x="2722" y="285" width="2" height="51" fill="#eb413d"/>
<rect x="2713" y="291" width="20" height="9" fill="#ef5350"/>
<rect x="2748" y="292" width="2" height="49" fill="#eb413d"/>
<rect x="2739" y="300" width="20" height="38" fill="#ef5350"/>
<rect x="2773" y="315" width="2" height="36" fill="#129a8b"/>
<rect x="2764" y="324" width="20" height="14" fill="#9598a1"/>
<rect x="2766" y="326" width="16" height="10" fill="#26a69a"/>
<rect x="2799" y="277" width="2" height="48" fill="#129a8b"/>
<rect x="2790" y="300" width="20" height="23" fill="#9598a1"/>
<rect x="2792" y="302" width="16" height="19" fill="#26a69a"/>
<rect x="2825" y="284" width="2" height="26" fill="#eb413d"/>
<rect x="2816" y="300" width="20" height="8" fill="#ef5350"/>
<rect x="2850" y="305" width="2" height="46" fill="#eb413d"/>
<rect x="2841" y="308" width="20" height="16" fill="#ef5350"/>
<rect x="2876" y="289" width="2" height="43" fill="#129a8b"/>
<rect x="2867" y="308" width="20" height="16" fill="#9598a1"/>
<rect x="2869" y="310" width="16" height="12" fill="#26a69a"/>
<rect x="2902" y="297" width="2" height="393" fill="#eb413d"/>
<rect x="2893" y="308" width="20" height="73" fill="#ef5350"/>
<rect x="2927" y="360" width="2" height="82" fill="#eb413d"/>
<rect x="2918" y="380" width="20" height="26" fill="#ef5350"/>
<rect x="2953" y="357" width="2" height="59" fill="#129a8b"/>
<rect x="2944" y="361" width="20" height="43" fill="#9598a1"/>
<rect x="2946" y="363" width="16" height="39" fill="#26a69a"/>
<rect x="2978" y="352" width="2" height="54" fill="#eb413d"/>
<rect x="2969" y="360" width="20" height="20" fill="#ef5350"/>
<rect x="3004" y="380" width="2" height="89" fill="#eb413d"/>
<rect x="2995" y="380" width="20" height="29" fill="#ef5350"/>
<rect x="3030" y="371" width="2" height="78" fill="#eb413d"/>
<rect x="3021" y="409" width="20" height="30" fill="#ef5350"/>
<rect x="3055" y="420" width="2" height="104" fill="#eb413d"/>
<rect x="3046" y="438" width="20" height="36" fill="#ef5350"/>
<rect x="3081" y="424" width="2" height="54" fill="#129a8b"/>
<rect x="3072" y="440" width="20" height="33" fill="#9598a1"/>
<rect x="3074" y="442" width="16" height="29" fill="#26a69a"/>
<line x1="25" y1="440" x2="3332" y2="440" stroke="#089981" stroke-width="2" stroke-dasharray="2 4"/>
</g>
<g clip-path="url(#main)">
<text x="3128.0" y="75.3" font-size="29" fill="#2962ff" text-anchor="start" font-weight="normal" textLength="193.0" lengthAdjust="spacingAndGlyphs">1.618 (5.1443)</text>
<text x="3128.0" y="119.6" font-size="29" fill="#f23645" text-anchor="start" font-weight="normal" textLength="193.0" lengthAdjust="spacingAndGlyphs">1.414 (4.6538)</text>
<text x="3128.0" y="153.4" font-size="29" fill="#ff9800" text-anchor="start" font-weight="normal" textLength="193.0" lengthAdjust="spacingAndGlyphs">1.272 (4.3124)</text>
<text x="3128.0" y="226.2" font-size="29" fill="#787b86" text-anchor="start" font-weight="normal" textLength="135.0" lengthAdjust="spacingAndGlyphs">1 (3.6584)</text>
<text x="3128.0" y="293.4" font-size="29" fill="#00bcd4" text-anchor="start" font-weight="normal" textLength="193.0" lengthAdjust="spacingAndGlyphs">0.786 (3.1438)</text>
<text x="3128.0" y="354.3" font-size="29" fill="#089981" text-anchor="start" font-weight="normal" textLength="193.0" lengthAdjust="spacingAndGlyphs">0.618 (2.7399)</text>
<text x="3128.0" y="402.7" font-size="29" fill="#4caf50" text-anchor="start" font-weight="normal" textLength="162.0" lengthAdjust="spacingAndGlyphs">0.5 (2.4561)</text>
<text x="3128.0" y="457.1" font-size="29" fill="#ff9800" text-anchor="start" font-weight="normal" textLength="193.0" lengthAdjust="spacingAndGlyphs">0.382 (2.1724)</text>
<text x="3128.0" y="535.1" font-size="29" fill="#f23645" text-anchor="start" font-weight="normal" textLength="193.0" lengthAdjust="spacingAndGlyphs">0.236 (1.8214)</text>
<text x="3128.0" y="700.5" font-size="29" fill="#787b86" text-anchor="start" font-weight="normal" textLength="135.0" lengthAdjust="spacingAndGlyphs">0 (1.2539)</text>
</g>
<text x="45.5" y="116.0" font-size="29" fill="#4a4a4a" text-anchor="start" font-weight="normal" textLength="408.7" lengthAdjust="spacingAndGlyphs">XRP / TetherUS · 1W · Binance</text>
<text x="474.4" y="116.0" font-size="29" fill="#4a4a4a" text-anchor="start" font-weight="normal">O</text>
<text x="494.6" y="116.0" font-size="29" fill="#8e919b" text-anchor="start" font-weight="normal" textLength="88.3" lengthAdjust="spacingAndGlyphs">2.0491</text>
<text x="604.0" y="116.0" font-size="29" fill="#4a4a4a" text-anchor="start" font-weight="normal">H</text>
<text x="624.0" y="116.0" font-size="29" fill="#8e919b" text-anchor="start" font-weight="normal" textLength="87.0" lengthAdjust="spacingAndGlyphs">2.2868</text>
<text x="733.0" y="116.0" font-size="29" fill="#4a4a4a" text-anchor="start" font-weight="normal">L</text>
<text x="747.6" y="116.0" font-size="29" fill="#8e919b" text-anchor="start" font-weight="normal" textLength="87.1" lengthAdjust="spacingAndGlyphs">2.0238</text>
<text x="854.6" y="116.0" font-size="29" fill="#4a4a4a" text-anchor="start" font-weight="normal">C</text>
<text x="873.3" y="116.0" font-size="29" fill="#8e919b" text-anchor="start" font-weight="normal" textLength="88.0" lengthAdjust="spacingAndGlyphs">2.2079</text>
<text x="982.0" y="116.0" font-size="29" fill="#8e919b" text-anchor="start" font-weight="normal" textLength="226.6" lengthAdjust="spacingAndGlyphs">+0.1588 (+7.75%)</text>
<text x="45.5" y="158.0" font-size="29" fill="#4a4a4a" text-anchor="start" font-weight="normal" textLength="119.4" lengthAdjust="spacingAndGlyphs">Vol · XRP</text>
<text x="185.4" y="158.0" font-size="29" fill="#26a69a" text-anchor="start" font-weight="normal" textLength="100.3" lengthAdjust="spacingAndGlyphs">501.5 M</text>
<text x="45.5" y="199.5" font-size="29" fill="#4a4a4a" text-anchor="start" font-weight="normal" textLength="268.0" lengthAdjust="spacingAndGlyphs">EMA 20/50/100/200</text>
<text x="333.0" y="199.5" font-size="29" fill="#ff0000" text-anchor="start" font-weight="normal" textLength="90.0" lengthAdjust="spacingAndGlyphs">2.5314</text>
<text x="441.6" y="199.5" font-size="29" fill="#ff7f00" text-anchor="start" font-weight="normal" textLength="89.4" lengthAdjust="spacingAndGlyphs">2.3243</text>
<text x="551.0" y="199.5" font-size="29" fill="#00ffff" text-anchor="start" font-weight="normal" textLength="88.4" lengthAdjust="spacingAndGlyphs">1.8612</text>
<text x="658.6" y="199.5" font-size="29" fill="#0000ff" text-anchor="start" font-weight="normal" textLength="88.4" lengthAdjust="spacingAndGlyphs">1.3533</text>
<text x="3485.4" y="185.8" font-size="27" fill="#4c4c4c" text-anchor="start" font-weight="normal" textLength="80.7" lengthAdjust="spacingAndGlyphs">4.0000</text>
<text x="3485.4" y="313.2" font-size="27" fill="#4c4c4c" text-anchor="start" font-weight="normal" textLength="80.7" lengthAdjust="spacingAndGlyphs">3.0000</text>
<text x="3485.4" y="412.0" font-size="27" fill="#4c4c4c" text-anchor="start" font-weight="normal" textLength="80.7" lengthAdjust="spacingAndGlyphs">2.4000</text>
<text x="3485.4" y="492.8" font-size="27" fill="#4c4c4c" text-anchor="start" font-weight="normal" textLength="80.7" lengthAdjust="spacingAndGlyphs">2.0000</text>
<text x="3485.4" y="564.8" font-size="27" fill="#4c4c4c" text-anchor="start" font-weight="normal" textLength="80.7" lengthAdjust="spacingAndGlyphs">1.7000</text>
<text x="3485.4" y="650.8" font-size="27" fill="#4c4c4c" text-anchor="start" font-weight="normal" textLength="80.7" lengthAdjust="spacingAndGlyphs">1.4000</text>
<text x="3485.4" y="757.6" font-size="27" fill="#4c4c4c" text-anchor="start" font-weight="normal" textLength="80.7" lengthAdjust="spacingAndGlyphs">1.1000</text>
<text x="3485.4" y="846.5" font-size="27" fill="#4c4c4c" text-anchor="start" font-weight="normal" textLength="80.7" lengthAdjust="spacingAndGlyphs">0.9000</text>
<text x="3485.4" y="927.2" font-size="27" fill="#4c4c4c" text-anchor="start" font-weight="normal" textLength="80.7" lengthAdjust="spacingAndGlyphs">0.7500</text>
<text x="3485.4" y="1026.0" font-size="27" fill="#4c4c4c" text-anchor="start" font-weight="normal" textLength="80.7" lengthAdjust="spacingAndGlyphs">0.6000</text>
<text x="3485.4" y="1106.8" font-size="27" fill="#4c4c4c" text-anchor="start" font-weight="normal" textLength="80.7" lengthAdjust="spacingAndGlyphs">0.5000</text>
<text x="3485.4" y="1184.0" font-size="27" fill="#4c4c4c" text-anchor="start" font-weight="normal" textLength="80.7" lengthAdjust="spacingAndGlyphs">0.4200</text>
<text x="3485.4" y="1264.8" font-size="27" fill="#4c4c4c" text-anchor="start" font-weight="normal" textLength="80.7" lengthAdjust="spacingAndGlyphs">0.3500</text>
<rect x="3473" y="76.5" width="120" height="64.5" rx="9" fill="#ffffff" stroke="#e6e6e6" stroke-width="1.5"/>
<text x="3497.3" y="118.0" font-size="30" fill="#131722" text-anchor="start" font-weight="normal" textLength="68.8" lengthAdjust="spacingAndGlyphs">USDT</text>
<path d="M3336.5,420 H3464 V460 H3336.5 Q3332,460 3332,455.5 V424.5 Q3332,420 3336.5,420 Z" fill="#26a69a"/>
<text x="3342.8" y="450.2" font-size="27.5" fill="#ffffff" text-anchor="start" font-weight="normal" textLength="110.0" lengthAdjust="spacingAndGlyphs">XRPUSDT</text>
<path d="M3464,420 H3573.5 Q3578,420 3578,424.5 V487 Q3578,491.5 3573.5,491.5 H3464 Z" fill="#26a69a"/>
<text x="3485.8" y="450.2" font-size="27.5" fill="#ffffff" text-anchor="start" font-weight="normal" textLength="79.6" lengthAdjust="spacingAndGlyphs">2.2079</text>
<text x="3486.3" y="482.0" font-size="27.5" fill="#d3eeeb" text-anchor="start" font-weight="normal" textLength="78.8" lengthAdjust="spacingAndGlyphs">3d 18h</text>
<text x="3484.8" y="1335.5" font-size="27" fill="#4c4c4c" text-anchor="start" font-weight="normal" textLength="67.2" lengthAdjust="spacingAndGlyphs">80.00</text>
<text x="3484.8" y="1425.3" font-size="27" fill="#4c4c4c" text-anchor="start" font-weight="normal" textLength="67.2" lengthAdjust="spacingAndGlyphs">40.00</text>
<g clip-path="url(#rsi)">
<rect x="25" y="1349" width="3439" height="88" fill="#7e57c2" fill-opacity="0.1"/>
<line x1="25" y1="1349" x2="3464" y2="1349" stroke="#787b86" stroke-opacity="1" stroke-width="2" stroke-dasharray="10 12"/>
<line x1="25" y1="1437" x2="3464" y2="1437" stroke="#787b86" stroke-opacity="1" stroke-width="2" stroke-dasharray="10 12"/>
<line x1="25" y1="1393" x2="3464" y2="1393" stroke="#787b86" stroke-opacity="0.5" stroke-width="2" stroke-dasharray="10 12"/>
<polygon points="1690.9,1349.0 1698.8,1333.5 1724.5,1318.9 1750.1,1303.0 1775.7,1300.9 1801.3,1314.2 1826.9,1334.4 1852.5,1342.8 1878.1,1335.0 1903.7,1332.5 1929.3,1323.5 1955.0,1322.3 1978.4,1349.0" fill="url(#ob)"/>
<polygon points="2593.8,1349.0 2595.2,1348.1 2597.3,1349.0" fill="url(#ob)"/>
<polyline points="8.6,1371.3 34.2,1371.8 59.8,1372.3 85.4,1373.2 111.0,1375.7 136.6,1377.6 162.2,1378.8 187.9,1379.8 213.5,1380.7 239.1,1381.3 264.7,1384.7 290.3,1387.8 315.9,1388.8 341.5,1388.4 367.1,1388.4 392.7,1387.2 418.3,1385.7 444.0,1383.2 469.6,1381.9 495.2,1381.3 520.8,1379.8 546.4,1380.4 572.0,1380.1 597.6,1380.1 623.2,1380.7 648.8,1382.2 674.5,1384.4 700.1,1386.9 725.7,1389.1 751.3,1389.4 776.9,1390.0 802.5,1390.9 828.1,1390.3 853.7,1390.3 879.3,1391.2 904.9,1392.5 930.6,1393.1 956.2,1393.4 981.8,1393.4 1007.4,1393.4 1033.0,1393.4 1058.6,1393.7 1084.2,1395.0 1109.8,1397.1 1135.4,1399.3 1161.0,1401.8 1186.7,1404.3 1212.3,1408.0 1237.9,1408.3 1263.5,1405.8 1289.1,1404.0 1314.7,1402.7 1340.3,1401.5 1365.9,1399.9 1391.5,1398.1 1417.1,1397.1 1442.8,1396.5 1468.4,1395.0 1494.0,1392.8 1519.6,1390.0 1545.2,1388.4 1570.8,1386.6 1596.4,1386.9 1622.0,1388.8 1647.6,1390.0 1673.2,1388.8 1698.8,1384.7 1724.5,1380.7 1750.1,1374.8 1775.7,1368.3 1801.3,1362.7 1826.9,1358.9 1852.5,1356.1 1878.1,1353.7 1903.7,1349.0 1929.3,1343.7 1955.0,1338.8 1980.6,1335.3 2006.2,1332.2 2031.8,1330.4 2057.4,1332.5 2083.0,1335.0 2108.6,1340.6 2134.2,1345.9 2159.8,1350.6 2185.4,1354.3 2211.0,1358.3 2236.7,1362.0 2262.3,1366.1 2287.9,1370.7 2313.5,1374.8 2339.1,1377.0 2364.7,1378.3 2390.3,1380.4 2415.9,1382.5 2441.5,1384.7 2467.1,1386.0 2492.8,1386.6 2518.4,1387.5 2544.0,1387.2 2569.6,1384.7 2595.2,1382.2 2620.8,1380.1 2646.4,1379.1 2672.0,1377.6 2697.6,1376.6 2723.2,1376.0 2748.9,1376.0 2774.5,1375.7 2800.1,1374.5 2825.7,1373.9 2851.3,1372.9 2876.9,1372.3 2902.5,1373.2 2928.1,1376.0 2953.7,1379.4 2979.3,1381.6 3005.0,1383.8 3030.6,1386.9 3056.2,1390.3 3081.8,1392.5" fill="none" stroke="#fde72e" stroke-width="2.4" stroke-linejoin="round"/>
<polyline points="8.6,1368.0 34.2,1390.0 59.8,1393.4 85.4,1397.5 111.0,1398.7 136.6,1399.6 162.2,1397.1 187.9,1391.2 213.5,1393.1 239.1,1401.2 264.7,1391.9 290.3,1382.5 315.9,1362.0 341.5,1362.0 367.1,1372.3 392.7,1375.4 418.3,1373.9 444.0,1365.2 469.6,1380.7 495.2,1381.0 520.8,1379.4 546.4,1398.7 572.0,1390.9 597.6,1398.7 623.2,1404.9 648.8,1410.2 674.5,1402.7 700.1,1393.4 725.7,1397.8 751.3,1375.4 776.9,1381.0 802.5,1378.2 828.1,1375.1 853.7,1376.3 879.3,1387.8 904.9,1411.7 930.6,1405.2 956.2,1408.6 981.8,1402.4 1007.4,1410.2 1033.0,1406.8 1058.6,1400.2 1084.2,1404.3 1109.8,1408.6 1135.4,1411.7 1161.0,1414.5 1186.7,1415.2 1212.3,1429.8 1237.9,1393.4 1263.5,1374.8 1289.1,1374.8 1314.7,1395.6 1340.3,1388.4 1365.9,1385.7 1391.5,1377.6 1417.1,1390.9 1442.8,1395.6 1468.4,1385.7 1494.0,1381.6 1519.6,1370.7 1545.2,1396.8 1570.8,1397.1 1596.4,1393.3 1622.0,1400.2 1647.6,1403.4 1673.2,1383.2 1698.8,1333.5 1724.5,1318.9 1750.1,1303.0 1775.7,1300.9 1801.3,1314.2 1826.9,1334.4 1852.5,1342.8 1878.1,1335.0 1903.7,1332.5 1929.3,1323.5 1955.0,1322.3 1980.6,1351.5 2006.2,1362.0 2031.8,1353.0 2057.4,1360.8 2083.0,1351.2 2108.6,1385.3 2134.2,1380.7 2159.8,1376.3 2185.4,1387.8 2211.0,1395.0 2236.7,1388.4 2262.3,1389.7 2287.9,1383.5 2313.5,1387.8 2339.1,1379.8 2364.7,1378.0 2390.3,1381.6 2415.9,1389.4 2441.5,1385.7 2467.1,1390.3 2492.8,1397.1 2518.4,1388.8 2544.0,1385.3 2569.6,1364.5 2595.2,1348.1 2620.8,1358.9 2646.4,1371.7 2672.0,1365.2 2697.6,1369.8 2723.2,1372.3 2748.9,1383.2 2774.5,1379.4 2800.1,1374.5 2825.7,1377.0 2851.3,1382.2 2876.9,1378.5 2902.5,1398.1 2928.1,1403.4 2953.7,1391.9 2979.3,1397.1 3005.0,1403.4 3030.6,1409.6 3056.2,1415.2 3081.8,1407.1" fill="none" stroke="#7e57c2" stroke-width="2.4" stroke-linejoin="round"/>
</g>
<text x="46.4" y="1348.0" font-size="29" fill="#4a4a4a" text-anchor="start" font-weight="normal" textLength="189.0" lengthAdjust="spacingAndGlyphs">RSI (14, close)</text>
<text x="255.0" y="1348.0" font-size="29" fill="#7e57c2" text-anchor="start" font-weight="normal" textLength="73.0" lengthAdjust="spacingAndGlyphs">43.44</text>
<text x="347.6" y="1348.0" font-size="29" fill="#f5e23a" text-anchor="start" font-weight="normal" textLength="71.4" lengthAdjust="spacingAndGlyphs">49.81</text>
<text x="444.0" y="1348.0" font-size="29" fill="#4a4a4a" text-anchor="start" font-weight="normal" textLength="22.0" lengthAdjust="spacingAndGlyphs">∅</text>
<text x="490.5" y="1348.0" font-size="29" fill="#4a4a4a" text-anchor="start" font-weight="normal" textLength="22.0" lengthAdjust="spacingAndGlyphs">∅</text>
<line x1="25" y1="1298.5" x2="3603" y2="1298.5" stroke="#dcdee6" stroke-width="2"/>
<line x1="25" y1="1455.8" x2="3603" y2="1455.8" stroke="#4a4a4a" stroke-width="2"/>
<line x1="3464" y1="67" x2="3464" y2="1525" stroke="#4a4a4a" stroke-width="2"/>
<text x="89.5" y="1500.3" font-size="28" fill="#4c4c4c" text-anchor="start" font-weight="normal" textLength="43.0" lengthAdjust="spacingAndGlyphs">Sep</text>
<text x="319.2" y="1500.3" font-size="28" fill="#4c4c4c" text-anchor="start" font-weight="normal" textLength="44.7" lengthAdjust="spacingAndGlyphs">Nov</text>
<text x="515.6" y="1500.3" font-size="28" fill="#4c4c4c" text-anchor="start" font-weight="bold" textLength="61.6" lengthAdjust="spacingAndGlyphs">2024</text>
<text x="755.0" y="1500.3" font-size="28" fill="#4c4c4c" text-anchor="start" font-weight="normal" textLength="43.7" lengthAdjust="spacingAndGlyphs">Mar</text>
<text x="984.1" y="1500.3" font-size="28" fill="#4c4c4c" text-anchor="start" font-weight="normal" textLength="46.6" lengthAdjust="spacingAndGlyphs">May</text>
<text x="1195.2" y="1500.3" font-size="28" fill="#4c4c4c" text-anchor="start" font-weight="normal" textLength="34.1" lengthAdjust="spacingAndGlyphs">Jul</text>
<text x="1421.8" y="1500.3" font-size="28" fill="#4c4c4c" text-anchor="start" font-weight="normal" textLength="41.9" lengthAdjust="spacingAndGlyphs">Sep</text>
<text x="1650.9" y="1500.3" font-size="28" fill="#4c4c4c" text-anchor="start" font-weight="normal" textLength="44.6" lengthAdjust="spacingAndGlyphs">Nov</text>
<text x="1873.2" y="1500.3" font-size="28" fill="#4c4c4c" text-anchor="start" font-weight="bold" textLength="61.0" lengthAdjust="spacingAndGlyphs">2025</text>
<text x="2086.8" y="1500.3" font-size="28" fill="#4c4c4c" text-anchor="start" font-weight="normal" textLength="43.7" lengthAdjust="spacingAndGlyphs">Mar</text>
<text x="2315.8" y="1500.3" font-size="28" fill="#4c4c4c" text-anchor="start" font-weight="normal" textLength="46.6" lengthAdjust="spacingAndGlyphs">May</text>
<text x="2552.5" y="1500.3" font-size="28" fill="#4c4c4c" text-anchor="start" font-weight="normal" textLength="34.1" lengthAdjust="spacingAndGlyphs">Jul</text>
<text x="2753.5" y="1500.3" font-size="28" fill="#4c4c4c" text-anchor="start" font-weight="normal" textLength="42.0" lengthAdjust="spacingAndGlyphs">Sep</text>
<text x="2982.7" y="1500.3" font-size="28" fill="#4c4c4c" text-anchor="start" font-weight="normal" textLength="44.6" lengthAdjust="spacingAndGlyphs">Nov</text>
<text x="3204.5" y="1500.3" font-size="28" fill="#4c4c4c" text-anchor="start" font-weight="bold" textLength="61.9" lengthAdjust="spacingAndGlyphs">2026</text>
<text x="3418.4" y="1500.3" font-size="28" fill="#4c4c4c" text-anchor="start" font-weight="normal" textLength="43.9" lengthAdjust="spacingAndGlyphs">Mar</text>
<g fill="#131313">
<path d="M30.1,1580 H59.9 V1617.2 H44.9 V1594.8 H30.1 Z"/>
<circle cx="72.5" cy="1587.5" r="7.5"/>
<path d="M88.2,1580 H104.8 L90.1,1617.2 H72.7 Z"/>
</g>
<text x="122.4" y="1617.2" font-size="54" fill="#131313" text-anchor="start" font-weight="bold" textLength="302.5" lengthAdjust="spacingAndGlyphs">TradingView</text>
</svg>
</body></html>
